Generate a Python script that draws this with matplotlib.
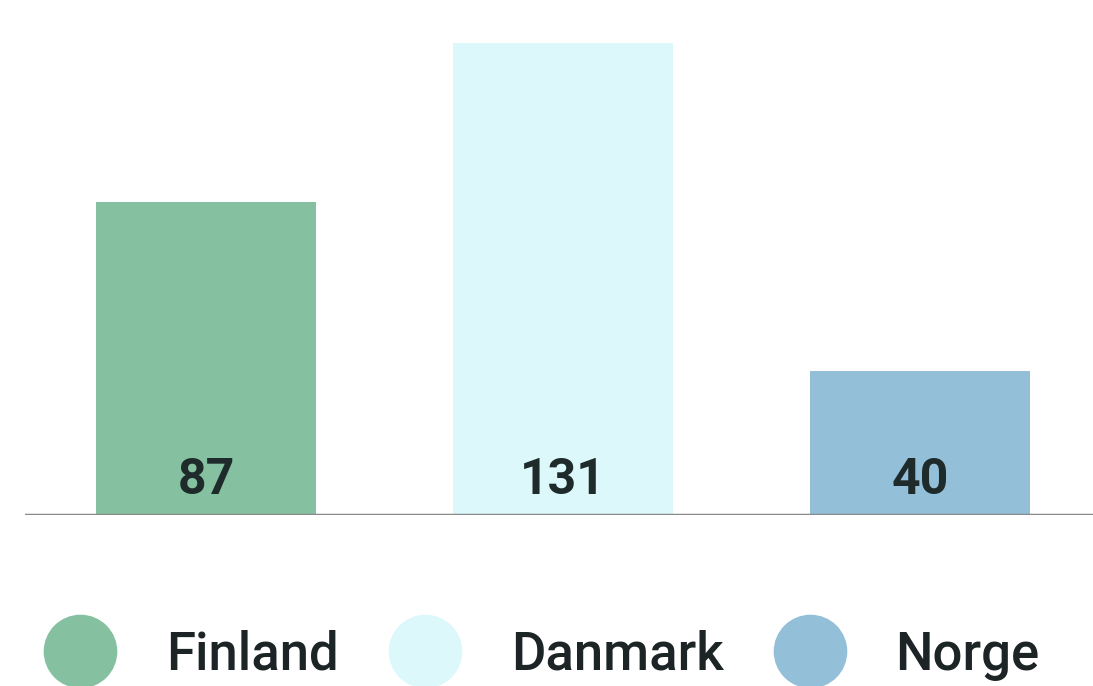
import matplotlib.pyplot as plt
from matplotlib.lines import Line2D

# data
countries = ["Finland", "Danmark", "Norge"]
values = [87, 131, 40]
colors = ["#85c1a0", "#dcf8fa", "#93bfd9"]

plt.rcParams['font.family'] = ['Roboto', 'DejaVu Sans']

fig = plt.figure(figsize=(10.93, 6.86), dpi=100)
ax = fig.add_axes([0.0229, 0.2493, 0.9771, 0.7507])

x = range(len(countries))
ax.bar(x, values, width=0.616, color=colors, zorder=2)

# value labels near the bottom of each bar
for xi, v in zip(x, values):
    ax.text(xi, 9.7, str(v), ha='center', va='center', fontsize=36,
            fontweight='bold', color='#1f2b2b', zorder=3)

ax.set_xlim(-0.507, 2.485)
ax.set_ylim(0, 143)
ax.axhline(0, color='#8a8a8a', linewidth=2.5, zorder=3)
ax.axis('off')

# legend with big circles
handles = [Line2D([], [], marker='o', linestyle='none', markersize=52,
                  markerfacecolor=c, markeredgecolor=c) for c in colors]
fig.legend(handles, countries, loc='center left', bbox_to_anchor=(0.0403, 0.045),
           ncol=3, frameon=False, handlelength=1.36,
           handletextpad=0.95, columnspacing=0.95, borderpad=0,
           borderaxespad=0, labelcolor='#1c2426',
           prop={'weight': 'medium', 'size': 38})

fig.savefig("out.png", dpi=100)
